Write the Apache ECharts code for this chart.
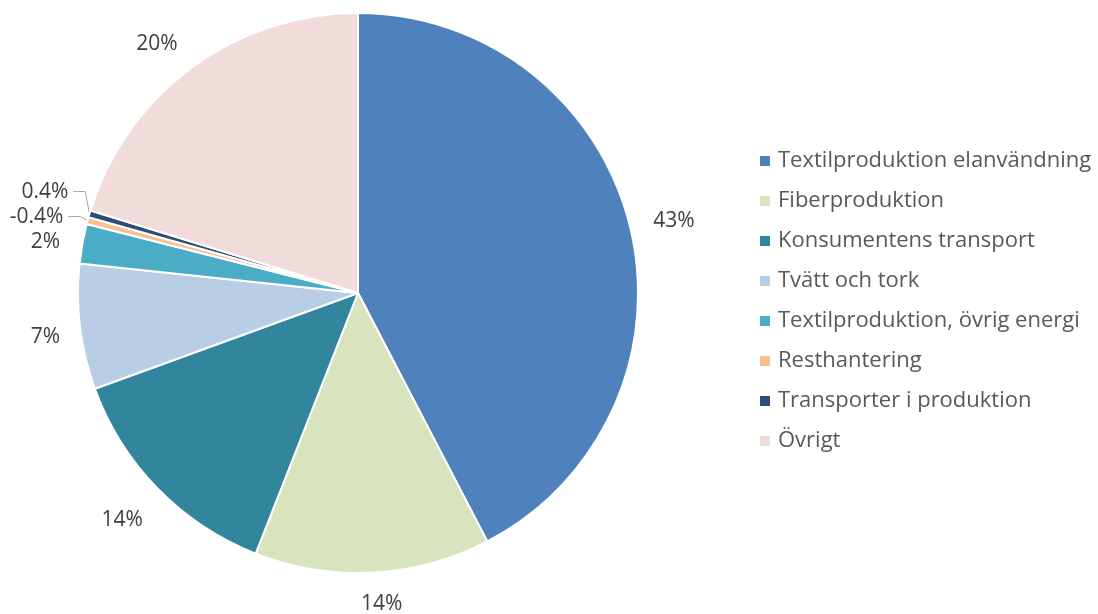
<!DOCTYPE html>
<html>
<head>
<meta charset="utf-8">
<script src="https://cdn.jsdelivr.net/npm/echarts@6/dist/echarts.min.js"></script>
<style>
  html, body { margin: 0; padding: 0; background: #fff; }
  #chart { width: 1098px; height: 614px; }
</style>
</head>
<body>
<div id="chart"></div>
<script>
// kategorier och andelar (%)
const categories = [
  'Textilproduktion elanvändning',
  'Fiberproduktion',
  'Konsumentens transport',
  'Tvätt och tork',
  'Textilproduktion, övrig energi',
  'Resthantering',
  'Transporter i produktion',
  'Övrigt'
]
const shares = [42.7, 13.7, 13.6, 7.3, 2.3, -0.4, 0.4, 20.4]
const colors = ['#4F81BD', '#D7E4BD', '#31859C', '#B9CDE5', '#4BACC6', '#FAC090', '#2C4D75', '#F2DCDB']

// små justeringar av etiketternas läge (px) så de hamnar som i Excel
const labelNudge = [[-3, 0], [-18, 9], [6, 16], [2, 7], [2, -16], [0, -18], [0, -20], [4, -6]]

const chart = echarts.init(document.getElementById('chart'))

// pajen ritas med absolutvärden, etiketten visar det verkliga värdet
const pieData = categories.map((name, i) => {
  const small = Math.abs(shares[i]) < 1
  return {
    name: name,
    value: Math.abs(shares[i]),
    raw: shares[i],
    labelLine: small
      ? { show: true, length: 8, length2: 12 }
      : { show: false, length: 22, length2: 0 }
  }
})

const option = {
  color: colors,
  legend: {
    orient: 'vertical',
    left: 758,
    top: 150,
    padding: 0,
    itemWidth: 12,
    itemHeight: 12,
    itemGap: 18,
    icon: 'rect',
    textStyle: {
      fontFamily: 'Open Sans',
      fontSize: 22,
      lineHeight: 21,
      color: '#595959',
      padding: [0, 0, 0, 2]
    },
    data: categories
  },
  series: [{
    type: 'pie',
    center: [358, 293],
    radius: 280,
    startAngle: 90,
    clockwise: true,
    avoidLabelOverlap: true,
    itemStyle: {
      borderColor: '#fff',
      borderWidth: 2
    },
    label: {
      show: true,
      position: 'outside',
      fontFamily: 'Open Sans',
      fontSize: 21,
      color: '#404040',
      overflow: 'none',
      formatter: p => {
        const v = p.data.raw
        return (Math.abs(v) < 1 ? v.toFixed(1) : Math.round(v)) + '%'
      }
    },
    labelLine: {
      lineStyle: { color: '#A6A6A6', width: 1 }
    },
    labelLayout: p => {
      const [dx, dy] = labelNudge[p.dataIndex]
      const res = { dx: dx, dy: dy }
      const pts = p.labelLinePoints
      if (pts && pts.length === 3) {
        // linjen följer med etiketten, första punkten ligger kvar på sektorn
        res.labelLinePoints = [
          pts[0],
          [pts[1][0] + dx, pts[1][1] + dy],
          [pts[2][0] + dx, pts[2][1] + dy]
        ]
      }
      return res
    },
    data: pieData
  }]
}
chart.setOption(option)
</script>
</body>
</html>
